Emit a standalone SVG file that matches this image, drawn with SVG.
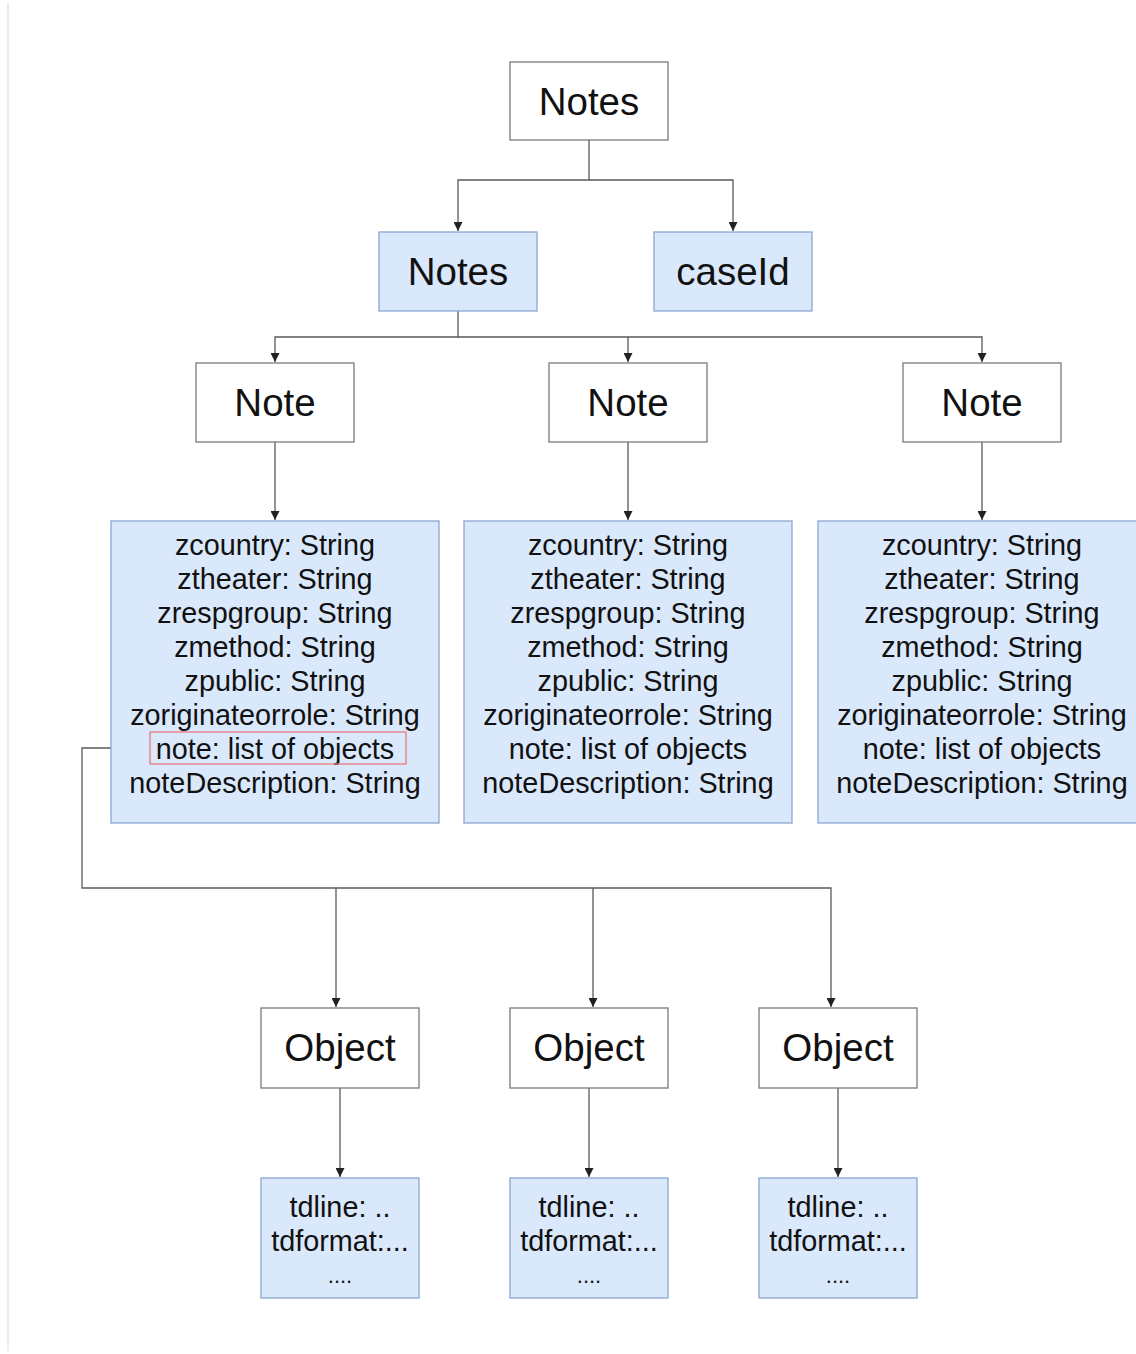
<svg xmlns="http://www.w3.org/2000/svg" width="1136" height="1354" viewBox="0 0 1136 1354">
<style>
.w{fill:#ffffff;stroke:#7a7a7a;stroke-width:1.3}
.b{fill:#dae8fc;stroke:#8aa6d2;stroke-width:1.3}
.t{font-family:"Liberation Sans",Arial,sans-serif;fill:#111;text-anchor:middle}
.big{font-size:38.5px}
.f{font-size:28.8px}
.c{fill:none;stroke:#5a5a5a;stroke-width:1.3}
</style>
<defs>
<marker id="ah" viewBox="0 0 10 10" refX="10" refY="5" markerWidth="9" markerHeight="9" markerUnits="userSpaceOnUse" orient="auto">
<path d="M0,0 L10,5 L0,10 z" fill="#222"/>
</marker>
</defs>
<rect width="1136" height="1354" fill="#ffffff"/>
<line x1="8" y1="3" x2="8" y2="1351" stroke="#ececec" stroke-width="2"/>

<g id="connectors">
<path class="c" d="M589,140 V180 H458 V231" marker-end="url(#ah)"/>
<path class="c" d="M589,180 H733 V231" marker-end="url(#ah)"/>
<path class="c" d="M458,311 V337 H275 V362" marker-end="url(#ah)"/>
<path class="c" d="M458,337 H628 V362" marker-end="url(#ah)"/>
<path class="c" d="M628,337 H982 V362" marker-end="url(#ah)"/>
<path class="c" d="M275,442 V520" marker-end="url(#ah)"/>
<path class="c" d="M628,442 V520" marker-end="url(#ah)"/>
<path class="c" d="M982,442 V520" marker-end="url(#ah)"/>
<path class="c" d="M150,748 H82 V888 H831 V1007" marker-end="url(#ah)"/>
<path class="c" d="M336,888 V1007" marker-end="url(#ah)"/>
<path class="c" d="M593,888 V1007" marker-end="url(#ah)"/>
<path class="c" d="M340,1088 V1177" marker-end="url(#ah)"/>
<path class="c" d="M589,1088 V1177" marker-end="url(#ah)"/>
<path class="c" d="M838,1088 V1177" marker-end="url(#ah)"/>
</g>

<g id="notes-root"><rect class="w" x="510" y="62" width="158" height="78"/><text class="t big" x="589" y="115">Notes</text></g>
<g id="notes"><rect class="b" x="379" y="232" width="158" height="79"/><text class="t big" x="458" y="285">Notes</text></g>
<g id="caseId"><rect class="b" x="654" y="232" width="158" height="79"/><text class="t big" x="733" y="285">caseId</text></g>

<g id="note1"><rect class="w" x="196" y="363" width="158" height="79"/><text class="t big" x="275" y="416">Note</text></g>
<g id="note2"><rect class="w" x="549" y="363" width="158" height="79"/><text class="t big" x="628" y="416">Note</text></g>
<g id="note3"><rect class="w" x="903" y="363" width="158" height="79"/><text class="t big" x="982" y="416">Note</text></g>

<g id="fields1"><rect class="b" x="111" y="521" width="328" height="302"/>
<text class="t f" x="275" y="555">zcountry: String</text>
<text class="t f" x="275" y="589">ztheater: String</text>
<text class="t f" x="275" y="623">zrespgroup: String</text>
<text class="t f" x="275" y="657">zmethod: String</text>
<text class="t f" x="275" y="691">zpublic: String</text>
<text class="t f" x="275" y="725">zoriginateorrole: String</text>
<text class="t f" x="275" y="759">note: list of objects</text>
<text class="t f" x="275" y="793">noteDescription: String</text>
<rect x="150" y="732" width="256" height="32" fill="none" stroke="#e87a7a" stroke-width="1.3"/>
</g>
<g id="fields2"><rect class="b" x="464" y="521" width="328" height="302"/>
<text class="t f" x="628" y="555">zcountry: String</text>
<text class="t f" x="628" y="589">ztheater: String</text>
<text class="t f" x="628" y="623">zrespgroup: String</text>
<text class="t f" x="628" y="657">zmethod: String</text>
<text class="t f" x="628" y="691">zpublic: String</text>
<text class="t f" x="628" y="725">zoriginateorrole: String</text>
<text class="t f" x="628" y="759">note: list of objects</text>
<text class="t f" x="628" y="793">noteDescription: String</text>
</g>
<g id="fields3"><rect class="b" x="818" y="521" width="330" height="302"/>
<text class="t f" x="982" y="555">zcountry: String</text>
<text class="t f" x="982" y="589">ztheater: String</text>
<text class="t f" x="982" y="623">zrespgroup: String</text>
<text class="t f" x="982" y="657">zmethod: String</text>
<text class="t f" x="982" y="691">zpublic: String</text>
<text class="t f" x="982" y="725">zoriginateorrole: String</text>
<text class="t f" x="982" y="759">note: list of objects</text>
<text class="t f" x="982" y="793">noteDescription: String</text>
</g>

<g id="object1"><rect class="w" x="261" y="1008" width="158" height="80"/><text class="t big" x="340" y="1061">Object</text></g>
<g id="object2"><rect class="w" x="510" y="1008" width="158" height="80"/><text class="t big" x="589" y="1061">Object</text></g>
<g id="object3"><rect class="w" x="759" y="1008" width="158" height="80"/><text class="t big" x="838" y="1061">Object</text></g>

<g id="td1"><rect class="b" x="261" y="1178" width="158" height="120"/>
<text class="t f" x="340" y="1217">tdline: ..</text><text class="t f" x="340" y="1251">tdformat:...</text><text class="t f" x="340" y="1283" style="font-size:22px">....</text></g>
<g id="td2"><rect class="b" x="510" y="1178" width="158" height="120"/>
<text class="t f" x="589" y="1217">tdline: ..</text><text class="t f" x="589" y="1251">tdformat:...</text><text class="t f" x="589" y="1283" style="font-size:22px">....</text></g>
<g id="td3"><rect class="b" x="759" y="1178" width="158" height="120"/>
<text class="t f" x="838" y="1217">tdline: ..</text><text class="t f" x="838" y="1251">tdformat:...</text><text class="t f" x="838" y="1283" style="font-size:22px">....</text></g>
</svg>
